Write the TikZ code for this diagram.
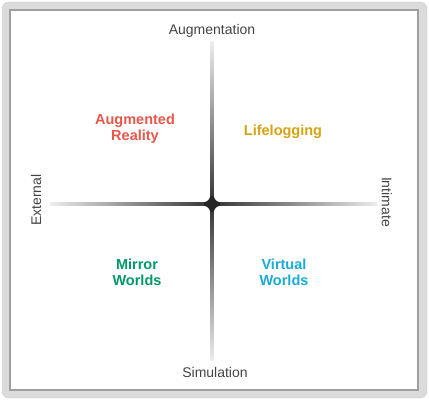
\documentclass[tikz,border=0pt]{standalone}
\usepackage{fontspec}
\setmainfont{Liberation Sans}
\definecolor{arred}{HTML}{E8574A}
\definecolor{llgold}{HTML}{D6A312}
\definecolor{mwgreen}{HTML}{00996B}
\definecolor{vwblue}{HTML}{1AACD6}
\definecolor{axisgray}{HTML}{444444}

\begin{document}
\begin{tikzpicture}[x=1pt,y=1pt,
    axislabel/.style={text=axisgray,font=\fontsize{14}{16}\selectfont,inner sep=0pt},
    quadrant/.style={font=\bfseries\fontsize{14.5}{16}\selectfont,align=center,inner sep=0pt}]
    \useasboundingbox (0,0) rectangle (429,400);

    %%% Frame %%%
    \draw[gray!40,fill=gray!28,rounded corners=7pt] (2,2) rectangle (427,398);
    \draw[gray!75,fill=white,line width=1.2pt] (10,10) rectangle (418,390);

    %%% Axis ends %%%
    \coordinate (o) at (212,196);
    \coordinate (top) at (212,358);
    \coordinate (bottom) at (212,40);
    \coordinate (left) at (50,196);
    \coordinate (right) at (377,196);

    %%% Axes %%%
    \shade[top color=gray!15,bottom color=black!80] ([xshift=-1.5pt]o) rectangle ([xshift=1.5pt]top);
    \shade[top color=black!80,bottom color=gray!15] ([xshift=-1.5pt]bottom) rectangle ([xshift=1.5pt]o);
    \shade[left color=gray!15,right color=black!80] ([yshift=-1.5pt]left) rectangle ([yshift=1.5pt]o);
    \shade[left color=black!80,right color=gray!15] ([yshift=-1.5pt]o) rectangle ([yshift=1.5pt]right);

    % centre
    \fill[black!85,shift={(o)}] (-8,1.5) .. controls (-4,3) and (-3,4) .. (-1.5,8)
        -- (1.5,8) .. controls (3,4) and (4,3) .. (8,1.5)
        -- (8,-1.5) .. controls (4,-3) and (3,-4) .. (1.5,-8)
        -- (-1.5,-8) .. controls (-3,-4) and (-4,-3) .. (-8,-1.5) -- cycle;

    %%% Axis labels %%%
    \node[axislabel] (augmentation) at (212,369) {Augmentation};
    \node[axislabel] (simulation) at (215,28) {Simulation};
    \node[axislabel,rotate=90] (external) at (36,200) {External};
    \node[axislabel,rotate=-90] (intimate) at (387,198) {Intimate};

    %%% Quadrants %%%
    \node[quadrant,text=arred] (ar) at (135,271) {Augmented\\Reality};
    \node[quadrant,text=llgold] (ll) at (283,268) {Lifelogging};
    \node[quadrant,text=mwgreen] (mw) at (137,128) {Mirror\\Worlds};
    \node[quadrant,text=vwblue] (vw) at (284,128) {Virtual\\Worlds};
\end{tikzpicture}
\end{document}
